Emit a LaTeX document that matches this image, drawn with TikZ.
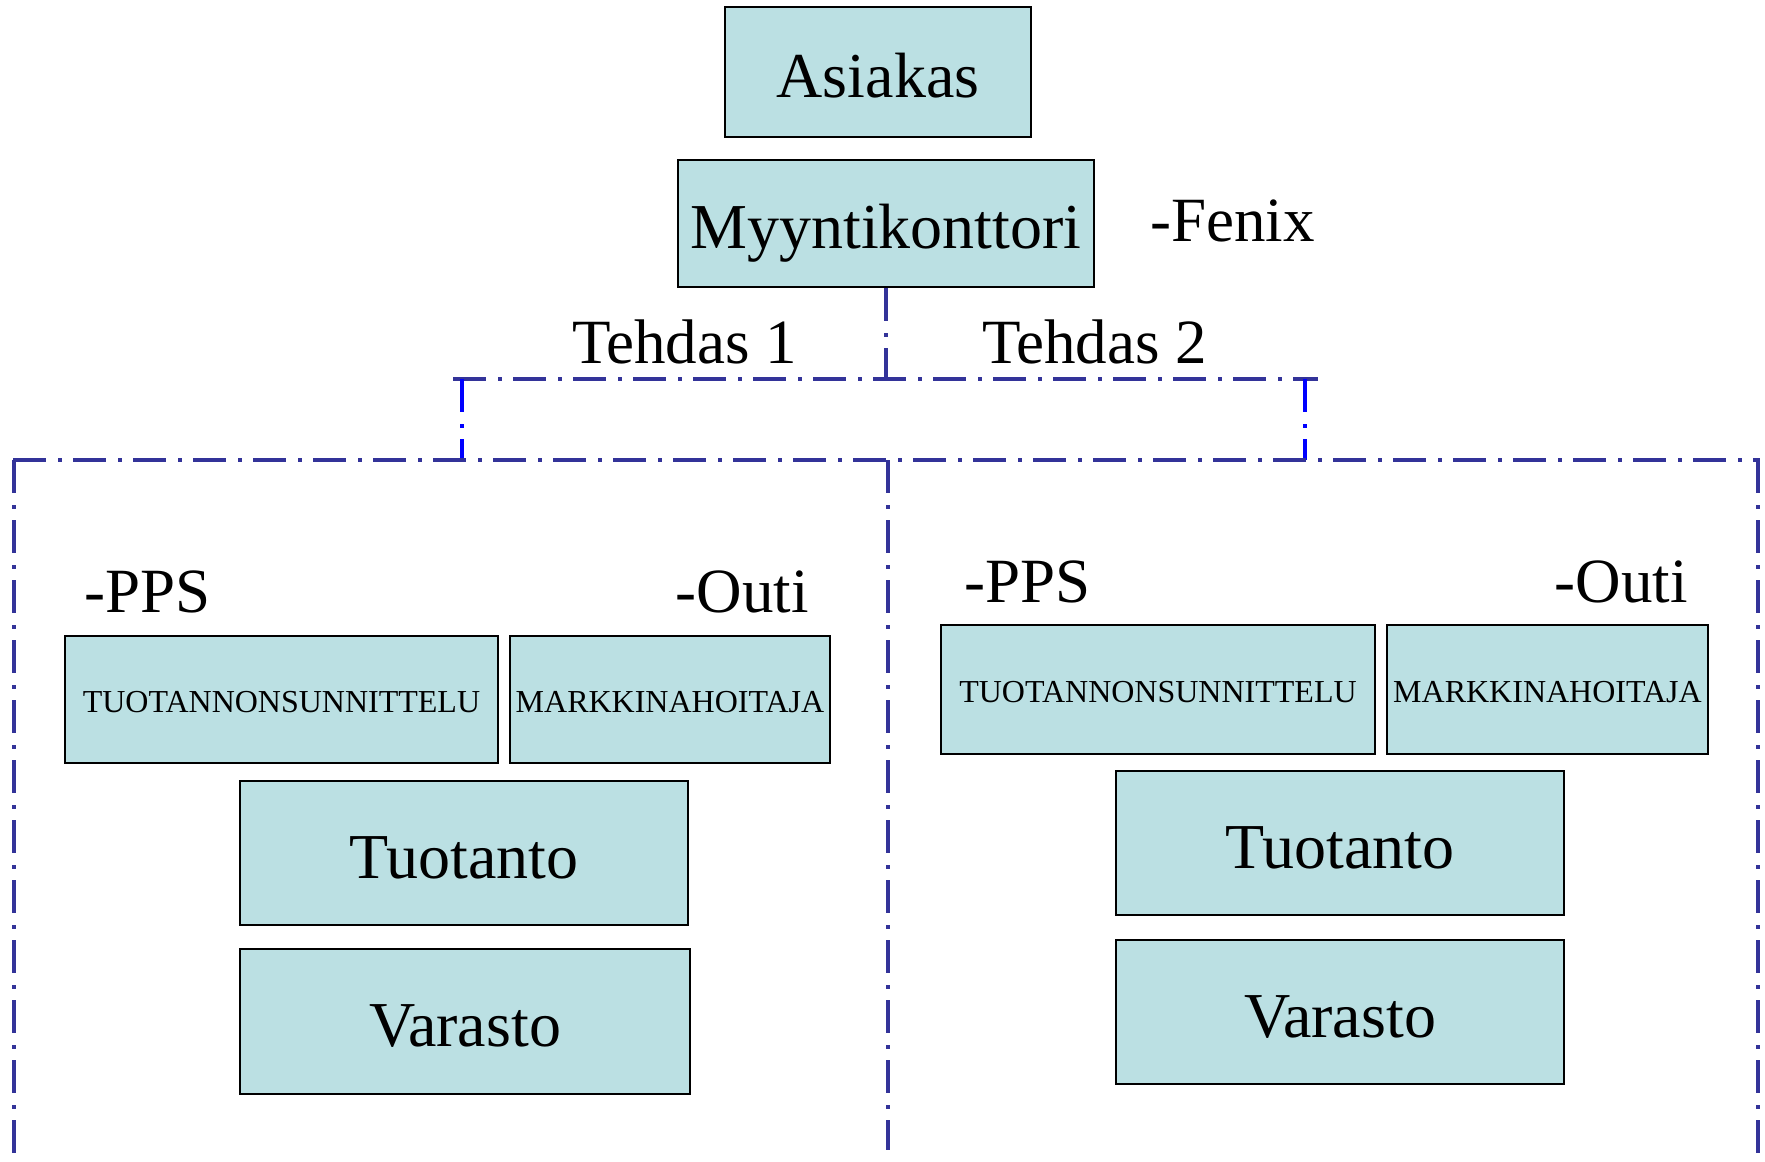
\documentclass[tikz,border=0pt]{standalone}
\usepackage{fontspec}
\setmainfont{Liberation Serif}
\definecolor{boxfill}{HTML}{BBE0E3}
\definecolor{lineblue}{HTML}{333399}
\definecolor{brightblue}{HTML}{0000FF}
\begin{document}
\begin{tikzpicture}[x=1pt,y=-1pt,
  orgbox/.style={draw=black,line width=2.5pt,fill=boxfill,inner sep=0pt,anchor=center,font=\fontsize{64}{70}\selectfont,text height=50pt,text depth=0pt},
  smallbox/.style={orgbox,font=\fontsize{32}{36}\selectfont,text height=26pt,text depth=0pt},
  lbl/.style={inner sep=0pt,font=\fontsize{63}{70}\selectfont},
  dd/.style={draw=lineblue,line width=4pt,dash pattern=on 33pt off 12pt on 4pt off 11pt},
  ddb/.style={dd,draw=brightblue}]
\useasboundingbox (0,0) rectangle (1765,1162);
% top boxes
\node[orgbox,minimum width=306pt,minimum height=130pt] (asi) at (878,72) {Asiakas};
\node[orgbox,minimum width=416pt,minimum height=127pt] (myy) at (886,223.5) {Myyntikonttori};
\node[lbl,anchor=base west] (fenix) at (1150,241) {-Fenix};
\node[lbl,anchor=base west] (teh1) at (572,363) {Tehdas 1};
\node[lbl,anchor=base west] (teh2) at (982,363) {Tehdas 2};
% left factory
\node[lbl,anchor=base west] (pps1) at (84,612) {-PPS};
\node[lbl,anchor=base east] (outi1) at (809,612) {-Outi};
\node[smallbox,minimum width=433pt,minimum height=127pt] (tuo1) at (281.5,699.5) {TUOTANNONSUNNITTELU};
\node[smallbox,minimum width=320pt,minimum height=127pt] (mar1) at (670,699.5) {MARKKINAHOITAJA};
\node[orgbox,minimum width=448pt,minimum height=144pt] (prod1) at (464,853) {Tuotanto};
\node[orgbox,minimum width=450pt,minimum height=145pt] (var1) at (465,1021.5) {Varasto};
% right factory
\node[lbl,anchor=base west] (pps2) at (964,602) {-PPS};
\node[lbl,anchor=base east] (outi2) at (1688,602) {-Outi};
\node[smallbox,minimum width=434pt,minimum height=129pt] (tuo2) at (1158,689.5) {TUOTANNONSUNNITTELU};
\node[smallbox,minimum width=321pt,minimum height=129pt] (mar2) at (1547.5,689.5) {MARKKINAHOITAJA};
\node[orgbox,minimum width=448pt,minimum height=144pt] (prod2) at (1340,843) {Tuotanto};
\node[orgbox,minimum width=448pt,minimum height=144pt] (var2) at (1340,1012) {Varasto};
% connector coordinates
\coordinate (hub) at (886,379);
\coordinate (ul) at (453,379);
\coordinate (ur) at (1318,379);
\coordinate (lt) at (462,379);
\coordinate (lb) at (462,460);
\coordinate (rt) at (1305,379);
\coordinate (rb) at (1305,460);
\coordinate (hl) at (13,460);
\coordinate (hr) at (1760,460);
\coordinate (vl) at (14,1162);
\coordinate (mt) at (888,460);
\coordinate (mb) at (888,1150);
\coordinate (vrt) at (1758,460);
\coordinate (vr) at (1758,1162);
\coordinate (vlt) at (14,460);
% connectors
\draw[dd] (myy.south) -- (hub);
\draw[dd] (ul) -- (ur);
\draw[ddb] (lt) -- (lb);
\draw[ddb] (rt) -- (rb);
\draw[dd] (hl) -- (hr);
\draw[dd] (vlt) -- (vl);
\draw[dd] (mt) -- (mb);
\draw[dd] (vrt) -- (vr);
\end{tikzpicture}
\end{document}
